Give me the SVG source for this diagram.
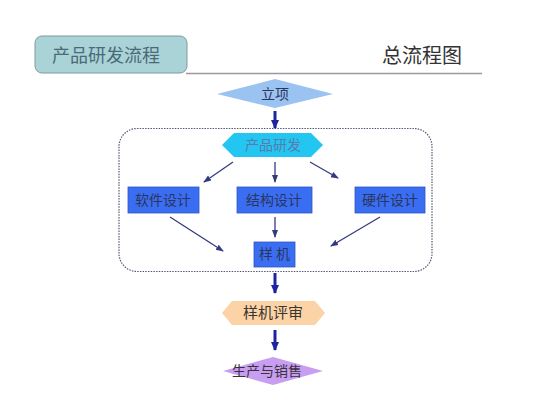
<svg xmlns="http://www.w3.org/2000/svg" width="533" height="400" viewBox="0 0 533 400">
<style>
text{font-family:"Noto Sans CJK SC","Noto Sans",sans-serif;text-anchor:middle;}
.t{font-size:14px;fill:#2a3560;}
.box{fill:#3a6ef2;stroke:#2f55c0;stroke-width:0.8;}
.thin{stroke:#353a80;stroke-width:1.3;fill:none;marker-end:url(#ah);}
.thick{stroke:#1c24a0;stroke-width:3;fill:none;marker-end:url(#ahb);}
</style>
<defs>
<marker id="ah" markerWidth="8" markerHeight="8" refX="7" refY="4" orient="auto" markerUnits="userSpaceOnUse"><path d="M0,1 L8,4 L0,7 Z" fill="#353a80"/></marker>
<marker id="ahb" markerWidth="10" markerHeight="10" refX="8" refY="5" orient="auto" markerUnits="userSpaceOnUse"><path d="M0,1 L9,5 L0,9 Z" fill="#1c24a0"/></marker>
</defs>
<rect width="533" height="400" fill="#ffffff"/>
<g id="header">
<line x1="186" y1="73.5" x2="482" y2="73.5" stroke="#9a9a9a" stroke-width="1.5"/>
<rect x="35" y="36" width="152" height="37" rx="7" fill="#a9d3d6" stroke="#7f9a9c" stroke-width="1"/>
<text x="106" y="62" font-size="18" fill="#4a6a78">产品研发流程</text>
<text x="422" y="63" font-size="20" fill="#333">总流程图</text>
</g>
<g id="container">
<rect x="119" y="128.5" width="313" height="143" rx="18" fill="none" stroke="#55597a" stroke-width="1.2" stroke-dasharray="1.5 1.2"/>
</g>
<g id="connectors">
<line class="thick" x1="275" y1="111" x2="275" y2="128"/>
<line class="thin" x1="233" y1="162" x2="204" y2="182"/>
<line class="thin" x1="275" y1="162" x2="275" y2="182"/>
<line class="thin" x1="310" y1="162" x2="338" y2="178"/>
<line class="thin" x1="170" y1="217" x2="223" y2="251"/>
<line class="thin" x1="275" y1="217" x2="275" y2="237"/>
<line class="thin" x1="380" y1="217" x2="331" y2="246"/>
<line class="thick" x1="275" y1="273" x2="275" y2="293"/>
<line class="thick" x1="275" y1="330" x2="275" y2="350"/>
</g>
<g id="n-lixiang">
<polygon points="275,79 333,94 275,108 217,94" fill="#9bc3f2"/>
<text class="t" x="275" y="99" fill="#3a4a70">立项</text>
</g>
<g id="n-yanfa">
<polygon points="222,145 234,133 311,133 323,145 311,157 234,157" fill="#22c6f0"/>
<text x="273" y="150" font-size="14" fill="#5a7ab0">产品研发</text>
</g>
<g id="n-ruanjian">
<rect class="box" x="128" y="187" width="71" height="26"/>
<text class="t" x="163" y="205">软件设计</text>
</g>
<g id="n-jiegou">
<rect class="box" x="237" y="187" width="75" height="26"/>
<text class="t" x="274" y="205">结构设计</text>
</g>
<g id="n-yingjian">
<rect class="box" x="355" y="187" width="70" height="26"/>
<text class="t" x="390" y="205">硬件设计</text>
</g>
<g id="n-yangji">
<rect class="box" x="254" y="242" width="41" height="25"/>
<text class="t" x="274.5" y="259">样 机</text>
</g>
<g id="n-pingshen">
<polygon points="222,313 232,301 315,301 325,313 315,325 232,325" fill="#fcd3a6"/>
<text x="273" y="318" font-size="15" fill="#3a3530">样机评审</text>
</g>
<g id="n-shengchan">
<polygon points="273,357 323,371 273,385 223,371" fill="#c89ef0"/>
<text x="267" y="376" font-size="14" fill="#3a3040">生产与销售</text>
</g>
</svg>
